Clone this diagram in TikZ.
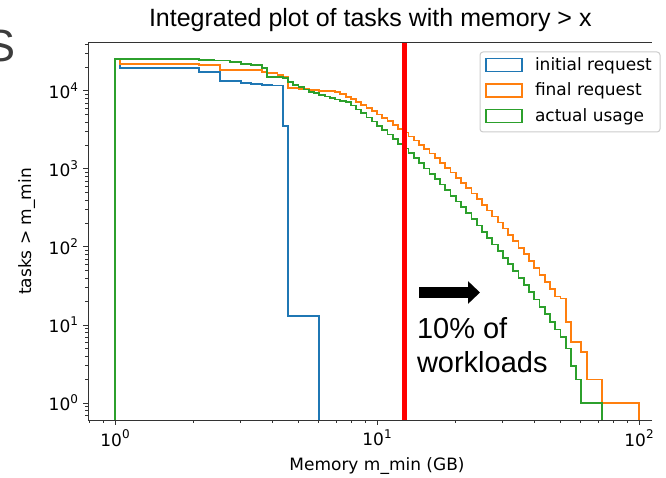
\documentclass[tikz,border=0pt]{standalone}
\usepackage{fontspec}
\setmainfont{Liberation Sans}
\newfontfamily\mplfont{DejaVu Sans}
\usetikzlibrary{arrows.meta}
\definecolor{histblue}{HTML}{1F77B4}
\definecolor{historange}{HTML}{FF7F0E}
\definecolor{histgreen}{HTML}{2CA02C}
\definecolor{slidegrey}{HTML}{3C3C3C}
\newcommand{\decade}[1]{10\raisebox{0.42em}{\fontsize{12}{12}\selectfont #1}}

\begin{document}
\begin{tikzpicture}[x=1pt,y=1pt,inner sep=0pt,outer sep=0pt,
mpl/.style={font=\mplfont\fontsize{17}{20}\selectfont},
hist/.style={line width=1.8pt},
spine/.style={line width=1pt,black!80},
legpatch/.style={draw,rectangle,line width=1.5pt,fill=white,minimum width=36pt,minimum height=13pt}]
\useasboundingbox (0,0) rectangle (666,477);
\fill[white] (0,0) rectangle (666,477);

\draw (149,450.3) node[anchor=base west,font=\fontsize{25}{30}\selectfont] (title) {Integrated plot of tasks with memory > x};
\begin{scope}
\clip (0,0) rectangle (666,477);
\draw (-14,415) node[anchor=base west,font=\fontsize{45}{52}\selectfont,text=slidegrey] (cutS) {S};
\end{scope}

\begin{scope}[shift={(115,74)},x=262pt,y=78pt]
\coordinate (ll) at (-0.103,-0.218);
\coordinate (ul) at (-0.103,4.628);
\coordinate (lr) at (2.05,-0.218);
\coordinate (ur) at (2.05,4.628);

% cumulative histograms, log-log
\begin{scope}
\clip (ll) rectangle (ur);
\draw[hist,histblue] (0,-0.3) -- (0,4.41) -| (0.02,4.295) -| (0.32,4.244) -| (0.40,4.128) -| (0.48,4.103) -| (0.52,4.09) -| (0.56,4.08) -| (0.60,4.07) -| (0.64,3.55) -| (0.66,1.115) -| (0.78,-0.3);
\draw[hist,historange] (0,-0.3) -- (0,4.41) -| (0.02,4.342) -| (0.32,4.329) -| (0.40,4.269) -| (0.56,4.247) -| (0.58,4.231) -| (0.62,4.20) -| (0.64,4.183) -| (0.66,4.035) -| (0.70,4.025) -| (0.74,4.015) -| (0.78,4.005) -| (0.82,3.995)
  foreach \k in {42,...,84} { -| ({0.02*\k},{3.896+1.73*0.02*\k-1.926*(0.02*\k)^2}) }
  -| (1.70,1.34) -| (1.72,1.04) -| (1.74,0.78) -| (1.78,0.65) -| (1.80,0.301) -| (1.86,0) -| (2.00,-0.3);
\draw[hist,histgreen] (0,-0.3) -- (0,4.41) -| (0.32,4.40) -| (0.38,4.39) -| (0.44,4.37) -| (0.48,4.35) -| (0.52,4.33) -| (0.56,4.29) -| (0.58,4.18) -| (0.64,4.165) -| (0.66,4.12) -| (0.68,4.08) -| (0.70,4.05) -| (0.72,4.02) -| (0.74,3.99) -| (0.76,3.97) -| (0.78,3.95) -| (0.80,3.93) -| (0.82,3.91) -| (0.84,3.89) -| (0.86,3.87)
  foreach \k in {44,...,84} { -| ({0.02*\k},{4.706+0.449*0.02*\k-1.6*(0.02*\k)^2}) }
  -| (1.70,0.85) -| (1.72,0.70) -| (1.74,0.477) -| (1.76,0.301) -| (1.78,0) -| (1.86,-0.3);
\end{scope}

\coordinate (cutbot) at (1.105,-0.218);
\coordinate (cuttop) at (1.105,4.628);
\draw[red,line width=5pt] (cutbot) -- (cuttop);

\draw[spine] (lr) -- (ll) -- (ul) -- (ur);

% ticks and tick labels
\foreach \d in {0,...,4} {
  \draw[spine] (-0.103,\d) -- ++(-5pt,0);
  \draw (-0.103,\d) ++(-10pt,0) node[mpl,anchor=east] (ylab\d) {\decade{\d}};
}
\foreach \d in {-1,...,4} \foreach \m in {2,...,9} {
  \pgfmathsetmacro\v{\d+log10(\m)}
  \pgfmathtruncatemacro\ok{(\v>-0.218)&&(\v<4.628)}
  \ifnum\ok=1 \draw[spine] (-0.103,\v) -- ++(-3pt,0); \fi
}
\foreach \d in {0,1,2} {
  \draw[spine] (\d,-0.218) -- ++(0,-5pt);
  \draw (\d,-0.218) ++(0,-10pt) node[mpl,anchor=north] (xlab\d) {\decade{\d}};
}
\foreach \d in {-1,0,1} \foreach \m in {2,...,9} {
  \pgfmathsetmacro\u{\d+log10(\m)}
  \pgfmathtruncatemacro\ok{\u>-0.103}
  \ifnum\ok=1 \draw[spine] (\u,-0.218) -- ++(0,-3pt); \fi
}
\end{scope}

\draw (377,11) node[mpl] (xlabel) {Memory m\_min (GB)};
\draw (26.7,245.5) node[mpl,rotate=90] (ylabel) {tasks > m\_min};

% legend
\draw[black!20,line width=1pt,fill=white,rounded corners=3pt] (480,345) rectangle (660,425);
\foreach \col/\lab [count=\i] in {histblue/initial request,historange/final request,histgreen/actual usage} {
  \draw (504,{412-25.5*(\i-1)}) node[legpatch,draw=\col] (patch\i) {};
  \draw (535,{406.5-25.5*(\i-1)}) node[mpl,anchor=base west] (leg\i) {\lab};
}

% annotation
\coordinate (arrS) at (419,184.5);
\coordinate (arrE) at (480,184.5);
\draw[line width=11pt,-{Triangle[length=12pt,width=22pt]}] (arrS) -- (arrE);
\draw (417,139) node[anchor=base west,font=\fontsize{29}{34}\selectfont] (pct) {10\% of};
\draw ([yshift=-34pt]pct.base west) node[anchor=base west,font=\fontsize{29}{34}\selectfont] (work) {workloads};
\end{tikzpicture}
\end{document}
